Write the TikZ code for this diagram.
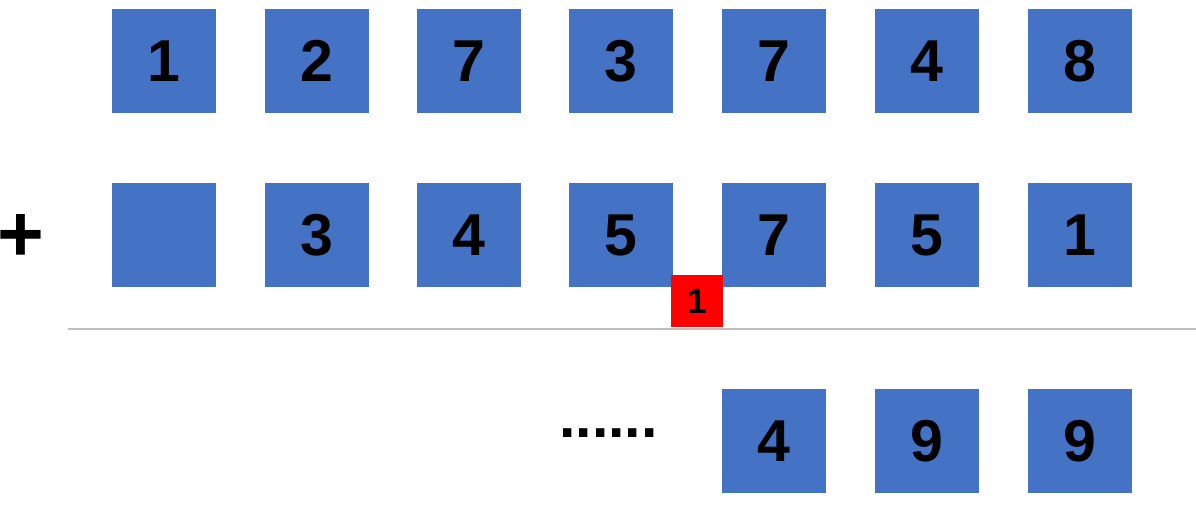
\documentclass[tikz,border=0pt]{standalone}
\usepackage{fontspec}
\setmainfont{Liberation Sans}
\usetikzlibrary{positioning}
\definecolor{officeblue}{RGB}{68,114,196}
\definecolor{carryred}{RGB}{255,0,0}
\definecolor{rulegray}{RGB}{191,191,191}
\tikzset{
    digit/.style={fill=officeblue, minimum size=2.6cm, inner sep=0pt,
        font=\bfseries\fontsize{42}{42}\selectfont},
    carry/.style={fill=carryred, minimum size=1.3cm, inner sep=0pt,
        font=\bfseries\fontsize{25}{25}\selectfont}
}

\begin{document}
\begin{tikzpicture}[x=0.025cm, y=-0.025cm]
    \useasboundingbox (0,0) rectangle (1196,512);
    \begin{scope}[shift={(0,0)}]
        % first number
        \node[digit] (a1) at (164,61) {1};
        \node[digit] (a2) at (317,61) {2};
        \node[digit] (a3) at (469,61) {7};
        \node[digit] (a4) at (621,61) {3};
        \node[digit] (a5) at (774,61) {7};
        \node[digit] (a6) at (927,61) {4};
        \node[digit] (a7) at (1080,61) {8};

        % second number
        \node[font=\bfseries\fontsize{57}{57}\selectfont, inner sep=0pt] (plus) at (21,238) {+};
        \node[digit] (b1) at (164,235) {};
        \node[digit] (b2) at (317,235) {3};
        \node[digit] (b3) at (469,235) {4};
        \node[digit] (b4) at (621,235) {5};
        \node[digit] (b5) at (774,235) {7};
        \node[digit] (b6) at (927,235) {5};
        \node[digit] (b7) at (1080,235) {1};

        \node[carry] (c1) at (697,301) {1};

        \coordinate (ruleL) at (68,329);
        \coordinate (ruleR) at (1196,329);
        \draw[rulegray, line width=1.2pt] (ruleL) -- (ruleR);

        % sum
        \node[font=\bfseries\fontsize{42}{42}\selectfont, inner sep=0pt, anchor=base west] (dots) at (559,437) {......};
        \node[digit] (s5) at (774,441) {4};
        \node[digit] (s6) at (927,441) {9};
        \node[digit] (s7) at (1080,441) {9};
    \end{scope}
\end{tikzpicture}
\end{document}
